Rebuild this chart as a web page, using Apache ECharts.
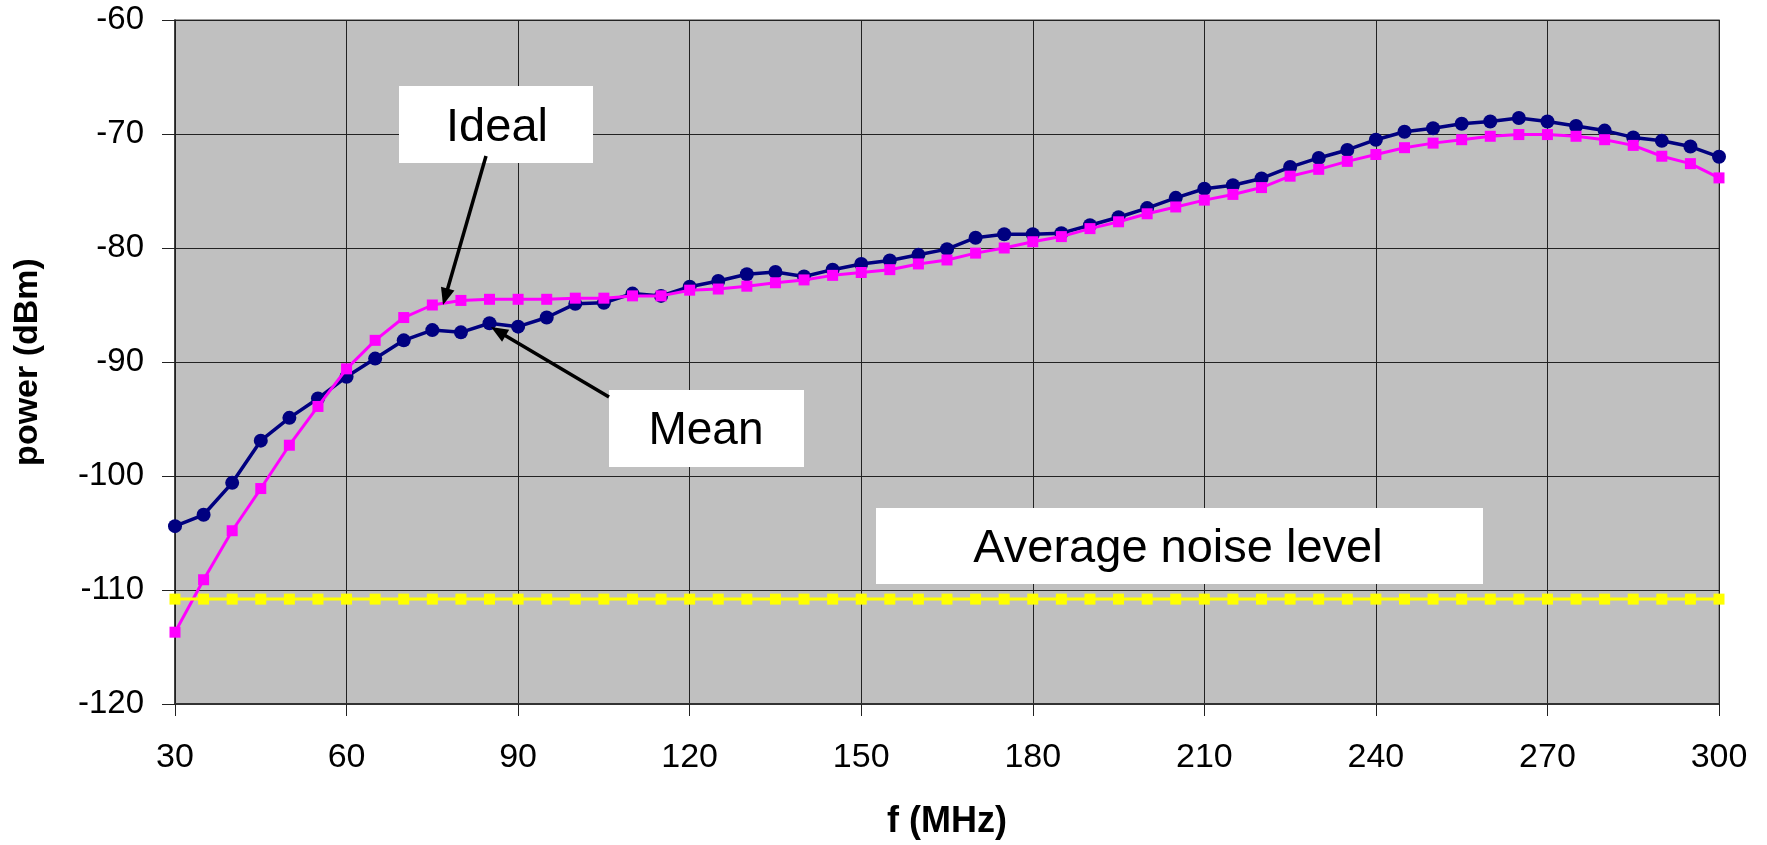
<!DOCTYPE html>
<html>
<head>
<meta charset="utf-8">
<script src="https://cdn.jsdelivr.net/npm/echarts@6/dist/echarts.min.js"></script>
<style>
html,body{margin:0;padding:0;background:#fff;}
#chart{width:1767px;height:845px;}
</style>
</head>
<body>
<div id="chart"></div>
<script>
// ---- data ----
const freqMHz = [30,35,40,45,50,55,60,65,70,75,80,85,90,95,100,105,110,115,120,125,130,135,140,145,150,155,160,165,170,175,180,185,190,195,200,205,210,215,220,225,230,235,240,245,250,255,260,265,270,275,280,285,290,295,300];
const meanPower = [-104.4,-103.4,-100.6,-96.9,-94.9,-93.2,-91.3,-89.7,-88.1,-87.2,-87.4,-86.6,-86.9,-86.1,-84.9,-84.8,-84.0,-84.2,-83.4,-82.9,-82.3,-82.1,-82.5,-81.9,-81.4,-81.1,-80.6,-80.1,-79.1,-78.8,-78.8,-78.7,-78.0,-77.3,-76.5,-75.6,-74.8,-74.5,-73.9,-72.9,-72.1,-71.4,-70.5,-69.8,-69.5,-69.1,-68.9,-68.6,-68.9,-69.3,-69.7,-70.3,-70.6,-71.1,-72.0];
const idealPower = [-113.7,-109.1,-104.8,-101.1,-97.3,-93.9,-90.6,-88.1,-86.1,-85.0,-84.6,-84.5,-84.5,-84.5,-84.4,-84.4,-84.2,-84.2,-83.7,-83.6,-83.35,-83.05,-82.8,-82.4,-82.15,-81.9,-81.4,-81.05,-80.45,-80.0,-79.45,-79.0,-78.3,-77.7,-77.0,-76.4,-75.8,-75.3,-74.7,-73.7,-73.1,-72.4,-71.8,-71.2,-70.8,-70.5,-70.2,-70.05,-70.05,-70.2,-70.5,-71.0,-71.95,-72.6,-73.85];
const noisePower = [-110.8,-110.8,-110.8,-110.8,-110.8,-110.8,-110.8,-110.8,-110.8,-110.8,-110.8,-110.8,-110.8,-110.8,-110.8,-110.8,-110.8,-110.8,-110.8,-110.8,-110.8,-110.8,-110.8,-110.8,-110.8,-110.8,-110.8,-110.8,-110.8,-110.8,-110.8,-110.8,-110.8,-110.8,-110.8,-110.8,-110.8,-110.8,-110.8,-110.8,-110.8,-110.8,-110.8,-110.8,-110.8,-110.8,-110.8,-110.8,-110.8,-110.8,-110.8,-110.8,-110.8,-110.8,-110.8];
const xTicks = {min: 30, max: 300, interval: 30};
const yTicks = {min: -120, max: -60, interval: 10};
const seriesNames = ['Mean', 'Ideal', 'Average noise level'];

// ---- chart ----
const FONT = "'Liberation Sans', Arial, sans-serif";
const pair = (ys) => freqMHz.map((f, i) => [f, ys[i]]);

function arrow(x1, y1, x2, y2) {
  const dx = x2 - x1, dy = y2 - y1;
  const L = Math.sqrt(dx*dx + dy*dy);
  const ux = dx / L, uy = dy / L;
  const hl = 17, hw = 7;
  const bx = x2 - ux*hl, by = y2 - uy*hl;
  return [
    {type:'line', shape:{x1:x1, y1:y1, x2:bx + ux*2, y2:by + uy*2}, style:{stroke:'#000', lineWidth:3.5}, z:100},
    {type:'polygon', shape:{points:[[x2,y2],[bx - uy*hw, by + ux*hw],[bx + uy*hw, by - ux*hw]]}, style:{fill:'#000'}, z:100}
  ];
}

function box(x, y, w, h, text, cx, cy, size) {
  return [
    {type:'rect', shape:{x:x, y:y, width:w, height:h}, style:{fill:'#fff'}, z:100},
    {type:'text', style:{text:text, x:cx, y:cy, align:'center', verticalAlign:'middle', font:size + 'px ' + FONT, fill:'#000'}, z:101}
  ];
}

const chart = echarts.init(document.getElementById('chart'));
chart.setOption({
  animation: false,
  backgroundColor: '#fff',
  grid: {left: 175, right: 48, top: 20, bottom: 135, show: true, backgroundColor: '#C0C0C0', borderColor: '#808080', borderWidth: 1.5},
  xAxis: {
    type: 'value', min: xTicks.min, max: xTicks.max, interval: xTicks.interval,
    name: 'f (MHz)', nameLocation: 'middle', nameGap: 100,
    nameTextStyle: {fontFamily: FONT, fontSize: 36, fontWeight: 'bold', color: '#000'},
    axisLine: {show: true, onZero: false, lineStyle: {color: '#333', width: 2}},
    axisTick: {show: true, inside: false, length: 12, lineStyle: {color: '#222', width: 1}},
    axisLabel: {fontFamily: FONT, fontSize: 34, color: '#000', margin: 37},
    splitLine: {show: true, lineStyle: {color: '#222', width: 1}}
  },
  yAxis: {
    type: 'value', min: yTicks.min, max: yTicks.max, interval: yTicks.interval,
    name: 'power (dBm)', nameLocation: 'middle', nameGap: 130, nameRotate: 90,
    nameTextStyle: {fontFamily: FONT, fontSize: 34, fontWeight: 'bold', color: '#000'},
    axisLine: {show: true, onZero: false, lineStyle: {color: '#222', width: 1.5}},
    axisTick: {show: true, inside: false, length: 13, lineStyle: {color: '#222', width: 1}},
    axisLabel: {fontFamily: FONT, fontSize: 33, color: '#000', margin: 31},
    splitLine: {show: true, lineStyle: {color: '#222', width: 1}}
  },
  series: [
    {name: seriesNames[0], type: 'line', data: pair(meanPower), color: '#000080',
     lineStyle: {width: 3.5, color: '#000080'}, symbol: 'circle', symbolSize: 14,
     itemStyle: {color: '#000080'}, z: 3},
    {name: seriesNames[1], type: 'line', data: pair(idealPower), color: '#FF00FF',
     lineStyle: {width: 3, color: '#FF00FF'}, symbol: 'rect', symbolSize: 11,
     itemStyle: {color: '#FF00FF'}, z: 4},
    {name: seriesNames[2], type: 'line', data: pair(noisePower), color: '#FFFF00',
     lineStyle: {width: 3, color: '#FFFF00'}, symbol: 'rect', symbolSize: 11,
     itemStyle: {color: '#FFFF00'}, z: 5}
  ],
  graphic: [].concat(
    box(399, 86, 194, 77, 'Ideal', 497, 128, 47),
    arrow(486, 156, 443, 305),
    box(609, 390, 195, 77, 'Mean', 706, 431, 46),
    arrow(609, 397, 491, 327),
    box(876, 508, 607, 76, 'Average noise level', 1178, 549, 47)
  )
});
</script>
</body>
</html>
